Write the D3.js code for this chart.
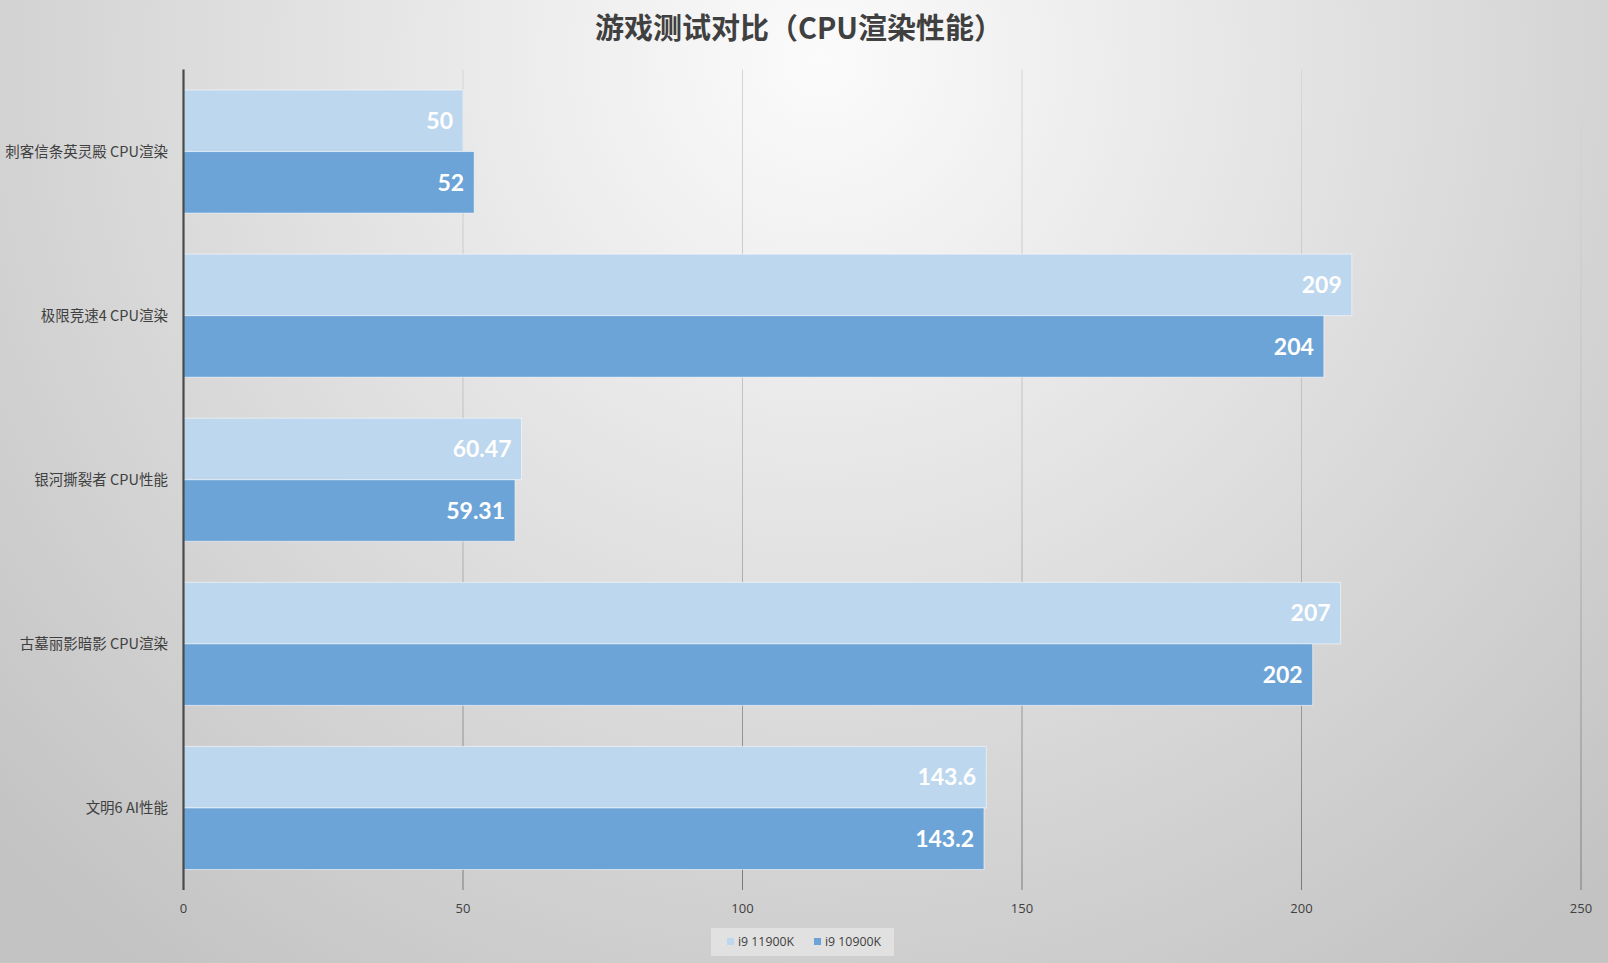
<!DOCTYPE html>
<html><head><meta charset="utf-8">
<script src="https://cdn.jsdelivr.net/npm/d3@7/dist/d3.min.js"></script>
<style>html,body{margin:0;padding:0;overflow:hidden;background:#fff}</style>
</head><body>
<svg id="c" width="1608" height="963"></svg>
<script>
const categories = ["刺客信条英灵殿 CPU渲染","极限竞速4 CPU渲染","银河撕裂者 CPU性能","古墓丽影暗影 CPU渲染","文明6 AI性能"];
const seriesNames = ["i9 11900K","i9 10900K"];
const series11900K = [50,209,60.47,207,143.6];
const series10900K = [52,204,59.31,202,143.2];
const xTicks = [0,50,100,150,200,250];
const labels11900K = ["50","209","60.47","207","143.6"];
const labels10900K = ["52","204","59.31","202","143.2"];

const W=1608,H=963;
const plotTop=69.5,plotBottom=890;
const svg=d3.select("#c");
const defs=svg.append("defs");
const rg=defs.append("radialGradient").attr("id","bg").attr("gradientUnits","userSpaceOnUse")
  .attr("cx",820).attr("cy",60).attr("r",1130);
rg.append("stop").attr("offset","0%").attr("stop-color","#fbfbfb");
rg.append("stop").attr("offset","100%").attr("stop-color","#c3c3c3");
const gg=defs.append("linearGradient").attr("id","grid").attr("gradientUnits","userSpaceOnUse")
  .attr("x1",0).attr("y1",plotTop).attr("x2",0).attr("y2",plotBottom);
gg.append("stop").attr("offset","0%").attr("stop-color","#d6d6d6");
gg.append("stop").attr("offset","50%").attr("stop-color","#bdbdbd");
gg.append("stop").attr("offset","100%").attr("stop-color","#7a7a7a");

svg.append("rect").attr("width",W).attr("height",H).attr("fill","url(#bg)");

const x=d3.scaleLinear().domain([0,250]).range([183.5,1581]);
const y=d3.scaleBand().domain(categories).range([plotTop,plotBottom]).paddingInner(0.25).paddingOuter(0.125);
const sub=d3.scaleBand().domain(seriesNames).range([0,y.bandwidth()]);
const colors={"i9 11900K":"#bdd7ee","i9 10900K":"#6ca4d7"};

// gridlines
svg.append("g").selectAll("line").data(xTicks.filter(d=>d>0)).join("line")
  .attr("x1",d=>x(d)).attr("x2",d=>x(d)).attr("y1",plotTop).attr("y2",plotBottom)
  .attr("stroke","url(#grid)").attr("stroke-width",1);

// bars
const data=categories.map((c,i)=>({c,vals:[
  {s:seriesNames[0],v:series11900K[i],l:labels11900K[i]},
  {s:seriesNames[1],v:series10900K[i],l:labels10900K[i]}]}));
const grp=svg.append("g").selectAll("g").data(data).join("g")
  .attr("transform",d=>`translate(0,${y(d.c)})`);
grp.selectAll("rect").data(d=>d.vals).join("rect")
  .attr("x",x(0)).attr("y",d=>sub(d.s)).attr("width",d=>x(d.v)-x(0)).attr("height",sub.bandwidth())
  .attr("fill",d=>colors[d.s])
  .attr("stroke","rgba(255,255,255,0.55)").attr("stroke-width",1);
grp.selectAll("text").data(d=>d.vals).join("text")
  .attr("x",d=>x(d.v)-10).attr("y",d=>sub(d.s)+sub.bandwidth()/2)
  .attr("dy","0.36em").attr("text-anchor","end")
  .attr("font-family","Lato, 'Open Sans', sans-serif").attr("font-weight",700).attr("font-size",23)
  .attr("fill","#ffffff").text(d=>d.l);

// left axis line
svg.append("line").attr("x1",x(0)).attr("x2",x(0)).attr("y1",plotTop).attr("y2",plotBottom)
  .attr("stroke","#4a4a4a").attr("stroke-width",2.2);

// category labels
svg.append("g").selectAll("text").data(categories).join("text")
  .attr("x",168).attr("y",d=>y(d)+y.bandwidth()/2).attr("dy","0.35em").attr("text-anchor","end")
  .attr("font-family","'Noto Sans CJK SC', 'Noto Sans', sans-serif").attr("font-size",14.5)
  .attr("fill","#404040").text(d=>d);

// x tick labels
svg.append("g").selectAll("text").data(xTicks).join("text")
  .attr("x",d=>x(d)).attr("y",913).attr("text-anchor","middle")
  .attr("font-family","'Open Sans', sans-serif").attr("font-size",13)
  .attr("fill","#404040").text(d=>d);

// title
svg.append("text").attr("x",799).attr("y",39).attr("text-anchor","middle")
  .attr("font-family","'Noto Sans CJK SC', sans-serif").attr("font-weight",700).attr("font-size",29)
  .attr("fill","#404040").text("游戏测试对比（CPU渲染性能）");

// legend
const lg=svg.append("g");
lg.append("rect").attr("x",711).attr("y",928).attr("width",183).attr("height",28).attr("fill","#e5e5e5").attr("fill-opacity",0.8);
const lx=[727,814];
seriesNames.forEach((s,i)=>{
  lg.append("rect").attr("x",lx[i]).attr("y",938).attr("width",7).attr("height",7).attr("fill",colors[s]);
  lg.append("text").attr("x",lx[i]+11).attr("y",942).attr("dy","0.35em")
    .attr("font-family","'Open Sans', sans-serif").attr("font-size",12.3).attr("fill","#404040").text(s);
});
</script>
</body></html>
